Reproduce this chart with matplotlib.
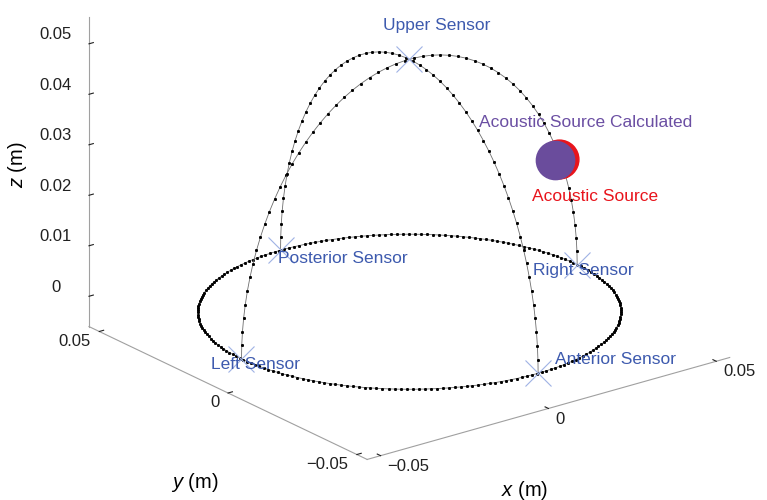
import matplotlib
matplotlib.use('Agg')
import matplotlib.pyplot as plt
import numpy as np
from matplotlib.transforms import offset_copy
from matplotlib.ticker import FuncFormatter

plt.rcParams['font.family'] = ['Liberation Sans', 'DejaVu Sans']
plt.rcParams['mathtext.fontset'] = 'custom'
plt.rcParams['mathtext.it'] = 'Liberation Sans:italic'
plt.rcParams['mathtext.rm'] = 'Liberation Sans'

# hemisphere carrying the sensors (m)
radius = 0.05
n_equator = 220
n_meridian = 60

sensor_names = ['Upper Sensor', 'Posterior Sensor', 'Right Sensor', 'Left Sensor', 'Anterior Sensor']
sensor_x = [0.0, 0.0, 0.05, -0.05, 0.0]
sensor_y = [0.0, 0.05, 0.0, 0.0, -0.05]
sensor_z = [0.05, 0.0, 0.0, 0.0, 0.0]
# label offsets in points (dx, dy) and horizontal alignment
label_dx = [20, -2, -32, -22, 12]
label_dy = [24, -6, -4, -4, 10]
label_ha = ['center', 'left', 'left', 'left', 'left']

source_xyz = [0.0445, 0.0, 0.022]
source_calc_xyz = [0.0435, 0.0, 0.022]

xticks = [-0.05, 0, 0.05]
yticks = [-0.05, 0, 0.05]
zticks = [0, 0.01, 0.02, 0.03, 0.04, 0.05]

fig = plt.figure(figsize=(7.67, 5), dpi=100)
side = 720
cx, cy = 0.521, 0.606
ax = fig.add_axes([cx - side / 2 / 767, cy - side / 2 / 500, side / 767, side / 500],
                  projection='3d', proj_type='ortho')
ax.view_init(elev=21.5, azim=-127.5)
ax.set_box_aspect((1, 1, 0.728), zoom=0.98)

# equator and the two meridians
line_kw = dict(color='#6e6e6e', lw=0.6, marker='s', ms=1.1, mfc='k', mec='k')
t = np.linspace(0, 2 * np.pi, n_equator)
ax.plot(radius * np.cos(t), radius * np.sin(t), np.zeros_like(t), **line_kw)
p = np.linspace(0, np.pi, n_meridian)
ax.plot(radius * np.cos(p), np.zeros_like(p), radius * np.sin(p), **line_kw)
ax.plot(np.zeros_like(p), radius * np.cos(p), radius * np.sin(p), **line_kw)

# sensors
ax.plot(sensor_x, sensor_y, sensor_z, ls='none', marker='x', ms=19, mew=0.8, color='#9fb2e4')
for name, x, y, z, dx, dy, ha in zip(sensor_names, sensor_x, sensor_y, sensor_z,
                                      label_dx, label_dy, label_ha):
    tr = offset_copy(ax.transData, fig=fig, x=dx, y=dy, units='points')
    ax.text(x, y, z, name, transform=tr, ha=ha, va='center', fontsize=12.5, color='#3d5aae')

# acoustic source (true and calculated)
ax.scatter(*[[v] for v in source_xyz], s=780, color='#e8141c', depthshade=False)
ax.scatter(*[[v] for v in source_calc_xyz], s=760, color='#6a4c9c', depthshade=False)
tr = offset_copy(ax.transData, fig=fig, x=-55, y=27, units='points')
ax.text(*source_calc_xyz, 'Acoustic Source Calculated', transform=tr, ha='left', va='center',
        fontsize=12.5, color='#6b4fa3')
tr = offset_copy(ax.transData, fig=fig, x=-19, y=-27, units='points')
ax.text(*source_xyz, 'Acoustic Source', transform=tr, ha='left', va='center',
        fontsize=12.5, color='#e8141c')

ax.set_xlim(-0.054, 0.054)
ax.set_ylim(-0.054, 0.054)
ax.set_zlim(-0.006, 0.0553)
ax.set_xticks(xticks)
ax.set_yticks(yticks)
ax.set_zticks(zticks)
fmt = FuncFormatter(lambda v, pos: ('%g' % v).replace('-', '\u2212'))
ax.grid(False)
for axis in (ax.xaxis, ax.yaxis, ax.zaxis):
    axis.set_major_formatter(fmt)
    axis.set_pane_color((1, 1, 1, 0))
    axis.pane.set_edgecolor((1, 1, 1, 0))
    axis.line.set_color('#a0a0a0')
    axis.line.set_linewidth(0.8)
    axis._axinfo['tick']['inward_factor'] = 0.0
    axis._axinfo['tick']['outward_factor'] = 0.15
    axis.set_tick_params(labelsize=12, colors='#202020')
    axis.label.set_visible(False)
    axis.get_offset_text().set_visible(False)
ax.zaxis.set_tick_params(pad=6)
ax.xaxis.set_tick_params(pad=-1.5)
ax.yaxis.set_tick_params(pad=-1.5)

# tick label alignment around the ticks
for axis, ha, va in ((ax.xaxis, 'left', 'center'), (ax.yaxis, 'right', 'center'),
                     (ax.zaxis, 'center', 'bottom')):
    for tick in axis.get_major_ticks():
        tick.label1.set_horizontalalignment(ha)
        tick.label1.set_verticalalignment(va)

fig.text(0.023, 0.67, r'$\it{z}$ (m)', rotation=90, ha='center', va='center', fontsize=14.5)
fig.text(0.254, 0.036, r'$\it{y}$ (m)', ha='center', va='center', fontsize=14.5)
fig.text(0.684, 0.02, r'$\it{x}$ (m)', ha='center', va='center', fontsize=14.5)

fig.savefig('out.png', dpi=100)
